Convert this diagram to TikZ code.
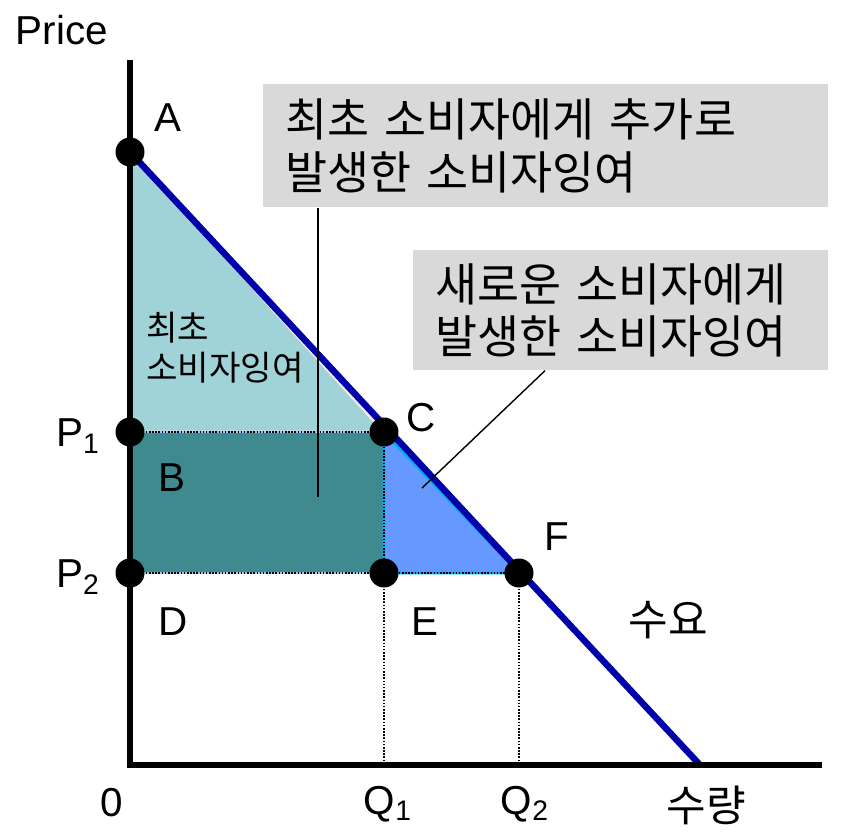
\documentclass[tikz,border=0pt]{standalone}
\usepackage{fontspec}
\setmainfont{Liberation Sans}
\newfontfamily\kr{Noto Sans CJK KR}
\usetikzlibrary{positioning, calc}

\definecolor{lightteal}{RGB}{160,211,215}
\definecolor{pinkline}{RGB}{245,232,232}
\definecolor{darkteal}{RGB}{62,138,143}
\definecolor{paleblue}{RGB}{153,204,255}
\definecolor{midblue}{RGB}{102,153,255}
\definecolor{demandblue}{RGB}{0,0,170}
\definecolor{boxgray}{RGB}{217,217,217}

\begin{document}
\begin{tikzpicture}[x=0.02cm, y=-0.02cm,
    dot/.style={circle, fill, inner sep=0pt, minimum size=0.58cm},
    lbl/.style={inner sep=0pt, font=\fontsize{23}{27}\selectfont},
    krlbl/.style={inner sep=0pt, font=\kr\fontsize{24.5}{29}\selectfont},
    box/.style={fill=boxgray, anchor=north west, align=left, inner xsep=0.44cm,
        font=\kr\fontsize{26}{30}\selectfont},
    guide/.style={black, line width=0.9pt, dash pattern=on 0.9pt off 0.9pt},
    leader/.style={black, line width=0.8pt}]
    \useasboundingbox (0,0) rectangle (846,835);

    % points of the graph
    \coordinate (A) at (130,152);
    \coordinate (P1) at (130,432);
    \coordinate (C) at (384,432);
    \coordinate (P2) at (130,573);
    \coordinate (E) at (384,573);
    \coordinate (F) at (519,573);
    \coordinate (O) at (130,765);
    \coordinate (ytop) at (130,60);
    \coordinate (xend) at (822,765);
    \coordinate (dend) at (700,765);

    % surplus areas
    \filldraw[fill=lightteal, draw=pinkline, line width=1.7pt] (A) -- (P1) -- (C) -- cycle;
    \filldraw[fill=darkteal, draw=paleblue, line width=1.7pt] (P1) rectangle (E);
    \filldraw[fill=midblue, draw=cyan, line width=1.7pt] (C) -- (E) -- (F) -- cycle;

    \draw[guide] (P1) -- (C) -- (E);
    \draw[guide] (P2) -- (F);
    \draw[guide] (E) -- (E |- O);
    \draw[guide] (F) -- (F |- O);

    % demand and axes
    \draw[demandblue, line width=3.7pt] (A) -- (dend);
    \draw[line width=3.4pt] (ytop) |- (xend);

    \foreach \p in {A,P1,C,P2,E,F} {
        \node[dot] (d\p) at (\p) {};
    }

    \node[lbl] (price) at (62,30) {Price};
    \node[lbl] (lA) at (168,118) {A};
    \node[lbl] (lC) at (421,418) {C};
    \node[lbl] (lB) at (172,478) {B};
    \node[lbl] (lD) at (173,622) {D};
    \node[lbl] (lE) at (425,622) {E};
    \node[lbl] (lF) at (557,537) {F};
    \node[lbl] (lP1) at (78,436) {P\textsubscript{1}};
    \node[lbl] (lP2) at (78,577) {P\textsubscript{2}};
    \node[lbl] (l0) at (112,803) {0};
    \node[lbl] (lQ1) at (388,804) {Q\textsubscript{1}};
    \node[lbl] (lQ2) at (525,804) {Q\textsubscript{2}};
    \node[krlbl] (demand) at (668,620) {수요};
    \node[krlbl] (qty) at (706,805) {수량};
    \node[inner sep=0pt, anchor=west, align=left, font=\kr\fontsize{19.5}{22.7}\selectfont]
        (first) at (146,348) {최초\\소비자잉여};

    % call-out boxes
    \node[box, text width=10.42cm, minimum height=2.46cm] (box1) at (263,84)
        {최초 소비자에게 추가로\\발생한 소비자잉여};
    \node[box, text width=7.42cm, minimum height=2.4cm] (box2) at (413,250)
        {새로운 소비자에게\\발생한 소비자잉여};
    \coordinate (t1) at (318,497);
    \coordinate (t2) at (422,488);
    \draw[leader] (box1.south -| t1) -- (t1);
    \draw[leader] ($(box2.south west)+(132,0)$) -- (t2);
\end{tikzpicture}
\end{document}
